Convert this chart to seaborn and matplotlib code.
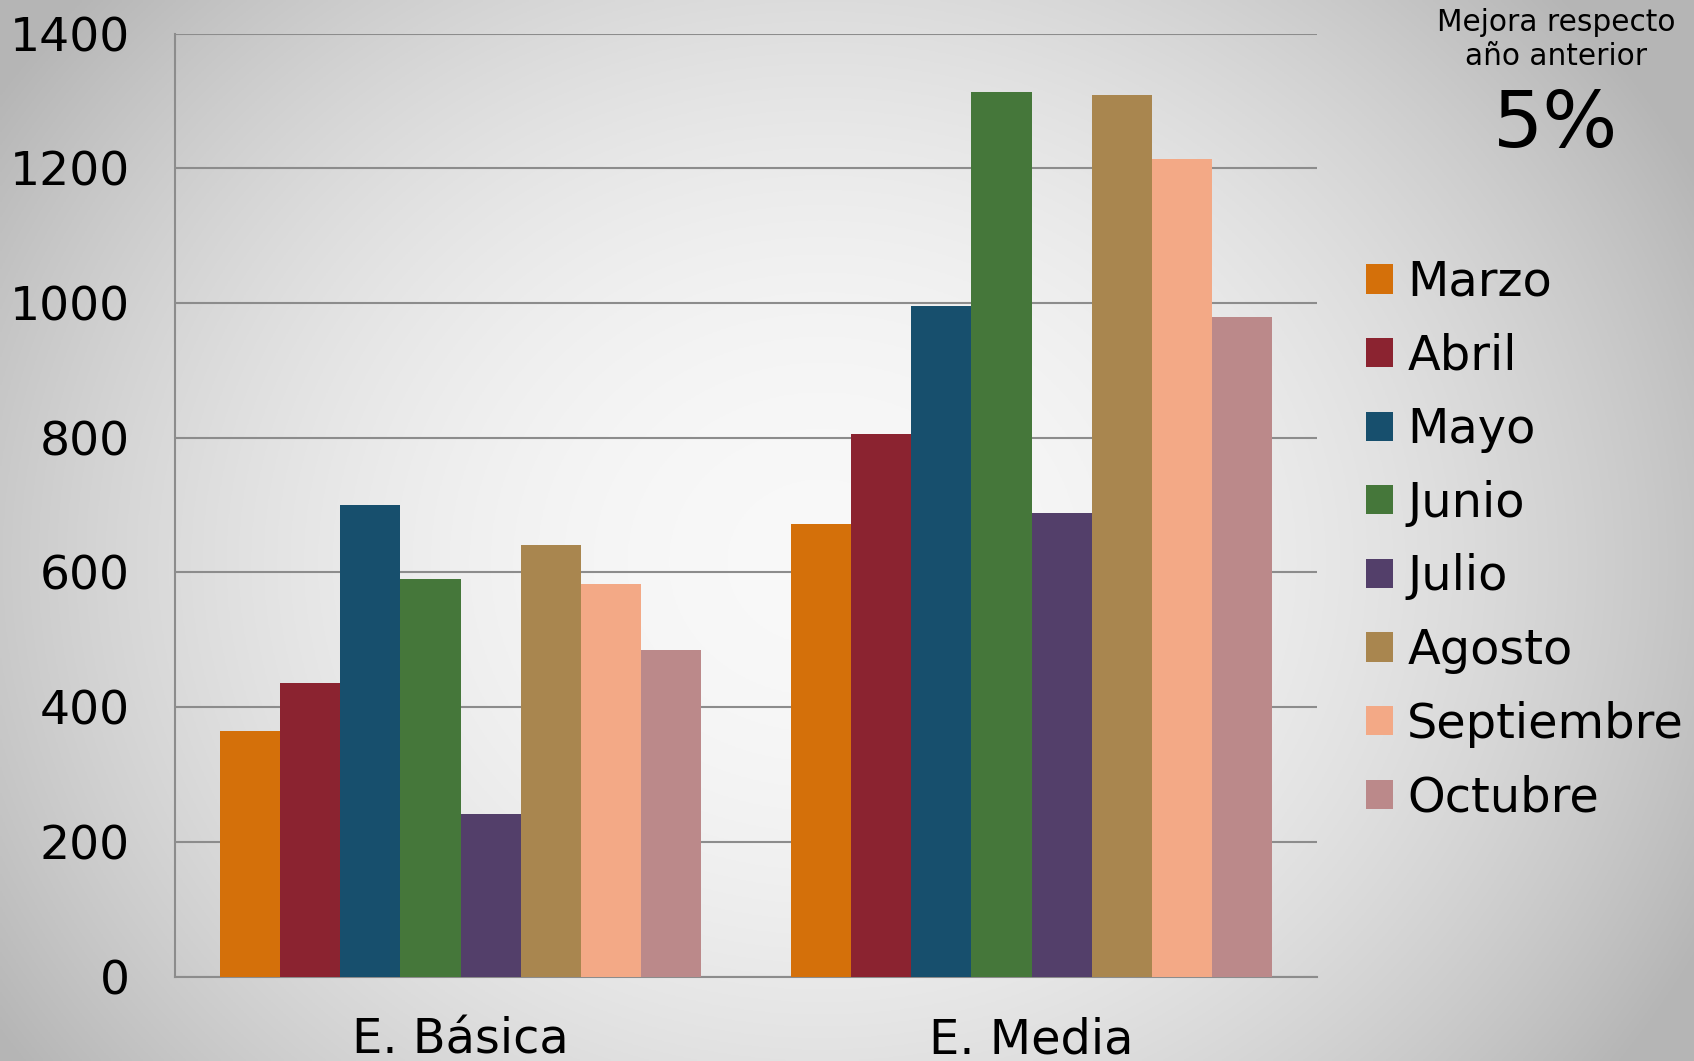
import numpy as np
import pandas as pd
import matplotlib
matplotlib.use("Agg")
import matplotlib.pyplot as plt
import seaborn as sns
from matplotlib.patches import Patch

# ---- data ----
niveles = ["E. Básica", "E. Media"]
meses = ["Marzo", "Abril", "Mayo", "Junio", "Julio", "Agosto", "Septiembre", "Octubre"]
basica = [365, 436, 700, 591, 241, 641, 583, 485]
media = [672, 805, 996, 1313, 688, 1309, 1214, 979]
colores = ["#D4700A", "#8B2330", "#174F6D", "#45773A", "#533F6A", "#A9864F", "#F3A986", "#BB898A"]
y_ticks = [0, 200, 400, 600, 800, 1000, 1200, 1400]
titulo = "Mejora respecto\naño anterior"
mejora = "5%"

df = pd.DataFrame({
    "nivel": [niveles[0]] * len(meses) + [niveles[1]] * len(meses),
    "mes": meses + meses,
    "valor": basica + media,
})

sns.set_theme(style="white")
plt.rcParams["font.family"] = ["DejaVu Sans"]
plt.rcParams["text.color"] = "black"

W, H = 1694, 1061
fig = plt.figure(figsize=(W / 100, H / 100), dpi=100)

# background radial gradient
bg = fig.add_axes([0, 0, 1, 1], zorder=-10)
yy, xx = np.mgrid[0:1:400j, 0:1:640j]
cx, cy = 0.485, 0.53
g = 0.975 - 0.78 * (xx - cx) ** 2 - 0.40 * (yy - cy) ** 2
g = np.clip(g, 0.71, 1.0)
bg.imshow(np.dstack([g, g, g]), extent=[0, 1, 0, 1], aspect="auto", origin="upper")
bg.axis("off")

ax = fig.add_axes([175 / W, 1 - 976.7 / H, (1317 - 175) / W, (976.7 - 33.5) / H])
ax.patch.set_alpha(0)

sns.barplot(data=df, x="nivel", y="valor", hue="mes", hue_order=meses,
            palette=colores, saturation=1, width=0.842, linewidth=0,
            legend=False, ax=ax, zorder=3)

gray = "#8c8c8c"
ax.set_xlim(-0.5, 1.5)
ax.set_ylim(0, 1400)
ax.set_yticks(y_ticks)
ax.set_yticklabels([str(v) for v in y_ticks])
ax.grid(axis="y", color=gray, linewidth=1.5, zorder=0)
ax.set_axisbelow(True)

ax.set_xticks([-0.5, 0.5, 1.5])
ax.set_xticklabels(["", "", ""])
ax.set_xticks([0, 1], minor=True)
ax.set_xticklabels(niveles, minor=True)
ax.tick_params(axis="x", which="major", length=11.5, width=1.4, color=gray, direction="out")
ax.tick_params(axis="x", which="minor", length=0, pad=29, labelsize=34.5, labelcolor="black")
ax.tick_params(axis="y", length=11.5, width=1.4, color=gray, direction="out", pad=21,
               labelsize=34, labelcolor="black")
ax.set_xlabel("")
ax.set_ylabel("")
for s in ["top", "right"]:
    ax.spines[s].set_visible(False)
for s in ["left", "bottom"]:
    ax.spines[s].set_color(gray)
    ax.spines[s].set_linewidth(1.5)

handles = [Patch(facecolor=c, edgecolor="none", label=m) for c, m in zip(colores, meses)]
fig.legend(handles=handles, loc="upper left", bbox_to_anchor=(1366 / W, 1 - 259 / H),
           frameon=False, fontsize=34.5, handlelength=0.56, handleheight=0.56,
           handletextpad=0.3, labelspacing=0.555, borderpad=0, borderaxespad=0,
           labelcolor="black")

fig.text(1556 / W, 1 - 8 / H, titulo, ha="center", va="top", fontsize=21.3,
         linespacing=1.2, color="black")
fig.text(1556 / W, 1 - 147 / H, mejora, ha="center", va="baseline", fontsize=57,
         color="black")

fig.savefig("out.png", dpi=100)
